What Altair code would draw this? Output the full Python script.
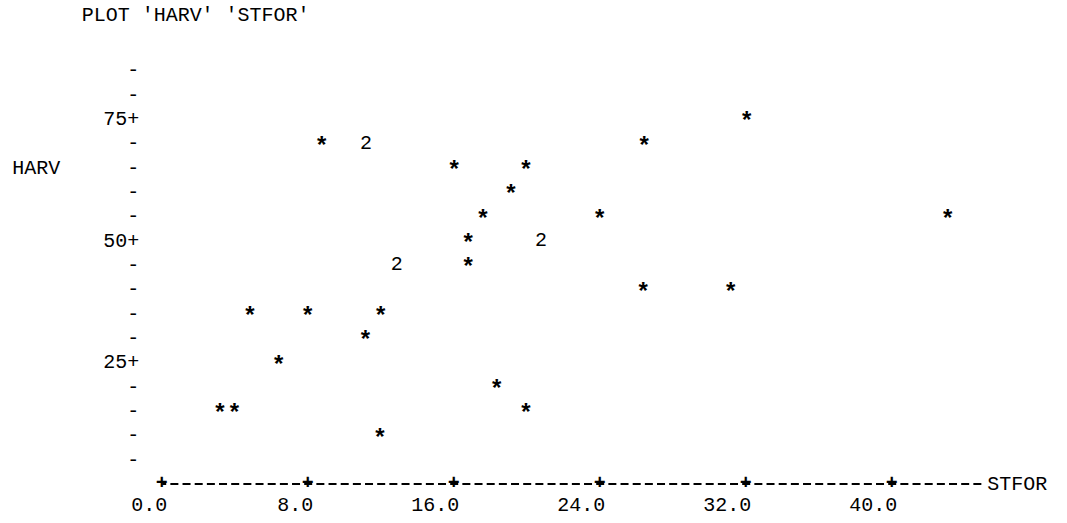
import altair as alt
import pandas as pd

# ---- data (STFOR on x, HARV on y) ----
stfor = [8.77, 11.19, 11.19, 16.03, 19.96, 19.14, 17.6, 16.8, 20.79, 20.79,
         12.88, 12.88, 16.8, 4.84, 8.0, 12.0, 11.16, 6.41, 3.19, 3.98,
         18.36, 19.96, 11.96, 32.05, 26.44, 24.0, 43.07, 26.39, 31.18]
harv = [70, 70, 70, 65, 65, 60, 55, 50, 50, 50,
        45, 45, 45, 35, 35, 35, 30, 25, 15, 15,
        20, 15, 10, 75, 70, 55, 55, 40, 40]
x_ticks = [0, 8, 16, 24, 32, 40]
y_ticks = [5, 10, 15, 20, 25, 30, 35, 40, 45, 50, 55, 60, 65, 70, 75, 80, 85]

MONO = "Liberation Mono"
FS = 20

df = pd.DataFrame({"STFOR": stfor, "HARV": harv})
tick_df = pd.DataFrame({"t": x_ticks, "z": [0] * len(x_ticks)})

x_scale = alt.Scale(domain=[0, 45], nice=False, zero=False)
y_scale = alt.Scale(domain=[0, 88], nice=False, zero=False)

x_axis = alt.Axis(
    values=x_ticks, format=".1f", grid=False, ticks=False, labelOverlap=False,
    labelFlush=False,
    domainColor="black", domainWidth=2, domainDash=[8, 4.1667], domainDashOffset=4,
    labelFont=MONO, labelFontSize=FS, labelColor="black", labelAlign="right",
    labelOffset=5, labelPadding=11,
    title="STFOR", titleFont=MONO, titleFontSize=FS, titleFontWeight="normal",
    titleColor="black", titleX=825, titleY=0, titleAlign="left", titleBaseline="middle",
)
y_axis = alt.Axis(
    values=y_ticks, grid=False, ticks=False, domain=False, labelOverlap=False,
    labelExpr="datum.value % 25 == 0 ? datum.value + '+' : '-'",
    labelFont=MONO, labelFontSize=FS, labelColor="black", labelPadding=23,
    labelBaseline="middle",
    title="HARV", titleFont=MONO, titleFontSize=FS, titleFontWeight="normal",
    titleColor="black", titleAngle=0, titleX=-150, titleY=112,
    titleAlign="left", titleBaseline="middle",
)

agg = alt.Chart(df).transform_aggregate(
    n="count()", groupby=["STFOR", "HARV"]
)

stars = agg.transform_filter("datum.n == 1").transform_calculate(
    sym="'*'"
).mark_text(font=MONO, fontSize=FS + 4, fontWeight="bold", baseline="middle",
            color="black", dy=4).encode(
    x=alt.X("STFOR:Q", scale=x_scale, axis=x_axis),
    y=alt.Y("HARV:Q", scale=y_scale, axis=y_axis),
    text="sym:N",
)

multi = agg.transform_filter("datum.n > 1").transform_calculate(
    sym="'' + datum.n"
).mark_text(font=MONO, fontSize=FS, baseline="middle", color="black").encode(
    x=alt.X("STFOR:Q", scale=x_scale, axis=x_axis),
    y=alt.Y("HARV:Q", scale=y_scale, axis=y_axis),
    text="sym:N",
)

plus = alt.Chart(tick_df).mark_text(
    text="+", font=MONO, fontSize=FS, fontWeight="bold", baseline="middle", color="black"
).encode(
    x=alt.X("t:Q", scale=x_scale, axis=x_axis),
    y=alt.Y("z:Q", scale=y_scale, axis=y_axis),
)

chart = alt.layer(stars, multi, plus).properties(
    width=821.25,
    height=428.3,
    background="white",
    title=alt.TitleParams(
        "PLOT 'HARV' 'STFOR'", anchor="start", font=MONO, fontSize=FS,
        fontWeight="normal", color="black", dx=70, offset=30,
    ),
    autosize=alt.AutoSizeParams(type="none"),
    padding={"left": 161.7, "top": 55.1, "right": 84, "bottom": 39.6},
).configure_view(strokeWidth=0, stroke="transparent")

chart.save("out.html", embed_options={"renderer": "svg", "actions": False})
